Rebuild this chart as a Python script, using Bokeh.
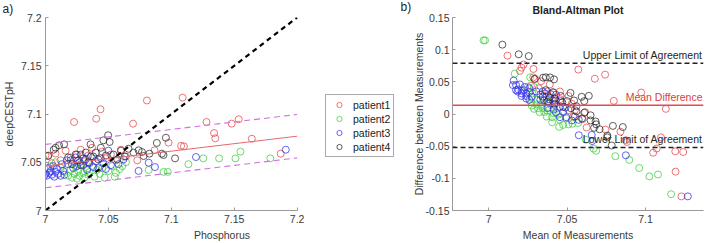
import numpy as np
from bokeh.plotting import figure
from bokeh.layouts import row
from bokeh.models import Legend, LegendItem, Label, Span, FixedTicker, Range1d, Title
from bokeh.embed import file_html
from bokeh.resources import INLINE

# ---- data: phosphorus pH vs deepCEST pH, one pair of arrays per patient ----
patients = ["patient1", "patient2", "patient3", "patient4"]
colors = ["#e5484d", "#3fcf3f", "#3535e6", "#2b2b2b"]

p1_phos = [6.9667, 6.9838, 6.985, 6.9865, 6.9936, 7.000, 7.0024, 7.005, 7.008, 7.012,
           7.016, 7.020, 7.0227, 7.025, 7.028, 7.031, 7.034, 7.037, 7.0403, 7.0437,
           7.045, 7.048, 7.052, 7.056, 7.060, 7.064, 7.0696, 7.0806, 7.0867, 7.0978,
           7.1078, 7.109, 7.110, 7.128, 7.134, 7.135, 7.148, 7.1536, 7.164, 7.187, 7.073]
p1_cest = [7.0574, 7.0608, 7.057, 7.0535, 7.0636, 7.057, 7.057, 7.049, 7.059, 7.052,
           7.062, 7.055, 7.0917, 7.058, 7.063, 7.051, 7.057, 7.065, 7.0951, 7.1049,
           7.061, 7.054, 7.058, 7.052, 7.063, 7.056, 7.090, 7.114, 7.0624, 7.0703,
           7.067, 7.117, 7.0665, 7.0917, 7.0803, 7.0748, 7.090, 7.0945, 7.0744, 7.0589, 7.052]

p2_phos = [6.9396, 6.9405, 6.9854, 6.998, 7.004, 7.008, 7.012, 7.015, 7.018, 7.020,
           7.021, 7.023, 7.024, 7.025, 7.026, 7.027, 7.028, 7.030, 7.031, 7.033,
           7.034, 7.035, 7.037, 7.039, 7.041, 7.043, 7.045, 7.047, 7.050, 7.053,
           7.055, 7.056, 7.059, 7.061, 7.064, 7.082, 7.0938, 7.0972, 7.1136, 7.1254,
           7.138, 7.151, 7.155, 7.1787]
p2_cest = [7.054, 7.055, 7.048, 7.055, 7.046, 7.050, 7.044, 7.040, 7.036, 7.042,
           7.034, 7.038, 7.045, 7.033, 7.041, 7.036, 7.048, 7.039, 7.034, 7.043,
           7.037, 7.040, 7.046, 7.035, 7.042, 7.038, 7.044, 7.034, 7.041, 7.046,
           7.035, 7.039, 7.043, 7.046, 7.050, 7.042, 7.040, 7.040, 7.048, 7.054,
           7.054, 7.054, 7.061, 7.054]

p3_phos = [6.990, 6.993, 6.995, 6.997, 6.999, 7.000, 7.001, 7.002, 7.003, 7.004,
           7.005, 7.006, 7.007, 7.008, 7.009, 7.010, 7.012, 7.013, 7.014, 7.015,
           7.017, 7.018, 7.020, 7.022, 7.024, 7.025, 7.027, 7.028, 7.030, 7.032,
           7.033, 7.035, 7.036, 7.038, 7.040, 7.042, 7.044, 7.046, 7.048, 7.050,
           7.052, 7.058, 7.062, 7.074, 7.082, 7.087, 7.1196, 7.191]
p3_cest = [7.042, 7.038, 7.040, 7.043, 7.036, 7.038, 7.036, 7.044, 7.039, 7.041,
           7.037, 7.046, 7.035, 7.040, 7.043, 7.038, 7.036, 7.048, 7.041, 7.037,
           7.052, 7.048, 7.052, 7.044, 7.055, 7.046, 7.050, 7.058, 7.047, 7.053,
           7.042, 7.049, 7.056, 7.045, 7.051, 7.044, 7.054, 7.049, 7.043, 7.062,
           7.047, 7.048, 7.053, 7.041, 7.0495, 7.045, 7.0554, 7.063]

p4_phos = [6.9549, 6.9728, 6.9806, 7.002, 7.0065, 7.008, 7.0108, 7.0148, 7.018, 7.021,
           7.024, 7.026, 7.028, 7.030, 7.032, 7.034, 7.0358, 7.038, 7.040, 7.042,
           7.044, 7.046, 7.048, 7.0498, 7.051, 7.054, 7.057, 7.060, 7.063, 7.066,
           7.070, 7.074, 7.0767, 7.078, 7.0826, 7.0885, 7.0925, 7.0938, 7.0957, 7.103]
p4_cest = [7.0627, 7.0656, 7.0706, 7.0565, 7.063, 7.065, 7.0676, 7.0686, 7.055, 7.048,
           7.058, 7.052, 7.047, 7.054, 7.060, 7.050, 7.0686, 7.056, 7.060, 7.053,
           7.065, 7.0727, 7.057, 7.078, 7.071, 7.058, 7.053, 7.062, 7.056, 7.064,
           7.060, 7.0624, 7.0606, 7.0565, 7.0589, 7.070, 7.0589, 7.0575, 7.0754, 7.054]

phos = [p1_phos, p2_phos, p3_phos, p4_phos]
cest = [p1_cest, p2_cest, p3_cest, p4_cest]

# linear fit of deepCEST on phosphorus, with its prediction band
fit_x = [7.0, 7.2]
fit_y = [7.046, 7.077]
fit_band = 0.0225
identity_xy = [7.0, 7.2]

# Bland-Altman statistics
ba_bias = 0.0135
ba_upper = 0.079
ba_lower = -0.052

left_ticks = [7.0, 7.05, 7.1, 7.15, 7.2]
left_tick_labels = ["7", "7.05", "7.1", "7.15", "7.2"]
ba_x_ticks = [7.0, 7.05, 7.1]
ba_x_tick_labels = ["7", "7.05", "7.1"]
ba_y_ticks = [-0.15, -0.1, -0.05, 0.0, 0.05, 0.1, 0.15]
ba_y_tick_labels = ["-0.15", "-0.1", "-0.05", "0", "0.05", "0.1", "0.15"]

FONT = "Liberation Sans"
TEXT = "#3a3a3a"
AXIS = "#9a9a9a"
FS = "10.5px"


def style_axes(p):
    for ax in (p.xaxis[0], p.yaxis[0]):
        ax.axis_line_color = AXIS
        ax.major_tick_line_color = AXIS
        ax.minor_tick_line_color = None
        ax.major_tick_in = 3
        ax.major_tick_out = 0
        ax.major_label_text_font = FONT
        ax.major_label_text_font_size = FS
        ax.major_label_text_color = TEXT
        ax.axis_label_text_font = FONT
        ax.axis_label_text_font_size = FS
        ax.axis_label_text_font_style = "normal"
        ax.axis_label_text_color = TEXT
        ax.major_label_standoff = 4
    p.xaxis.axis_label_standoff = 3
    p.yaxis.axis_label_standoff = 3
    p.xgrid.visible = False
    p.ygrid.visible = False
    p.outline_line_color = None
    p.background_fill_color = "white"
    p.border_fill_color = "white"


def panel_tag(text, offset, standoff, valign):
    return Title(text=text, align="left", offset=offset, standoff=standoff,
                 vertical_align=valign, text_font=FONT, text_font_size="12px",
                 text_font_style="normal", text_color="#222222")


# ---- panel a: scatter with identity and regression lines ----
# the frame runs on to the right edge so the legend can sit beside the data;
# the axis itself is bounded to 7..7.2
x_a_end = 7.2806
pa = figure(width=398, height=243, output_backend="svg", toolbar_location=None,
            x_range=Range1d(7.0, x_a_end), y_range=Range1d(7.0, 7.2),
            min_border_left=43, min_border_right=0, min_border_top=17,
            min_border_bottom=33)
style_axes(pa)
pa.xaxis.bounds = (7.0, 7.2)
pa.xaxis.axis_label = "Phosphorus"
pa.yaxis.axis_label = "deepCESTpH"
pa.xaxis.ticker = FixedTicker(ticks=left_ticks)
pa.yaxis.ticker = FixedTicker(ticks=left_ticks)
pa.xaxis.major_label_overrides = dict(zip(left_ticks, left_tick_labels))
pa.yaxis.major_label_overrides = dict(zip(left_ticks, left_tick_labels))
pa.title = panel_tag("a)", -43, 0, "top")

items = []
for name, col, xs, ys in zip(patients, colors, phos, cest):
    r = pa.scatter(xs, ys, size=7, marker="circle", fill_color=None,
                   line_color=col, line_width=0.9, line_alpha=0.85)
    items.append(LegendItem(label=name, renderers=[r]))

fy = np.array(fit_y)
pa.line(fit_x, fy, line_color="#e46a6a", line_width=1)
pa.line(fit_x, fy + fit_band, line_color="#d36fe0", line_width=1.1, line_dash="6 4")
pa.line(fit_x, fy - fit_band, line_color="#d36fe0", line_width=1.1, line_dash="6 4")
pa.line(identity_xy, identity_xy, line_color="black", line_width=2.2, line_dash="5 4")

legend = Legend(items=items, location=(280, 53), orientation="vertical",
                border_line_color="#555555", border_line_width=1,
                background_fill_color="white", background_fill_alpha=1,
                label_text_font=FONT, label_text_font_size=FS,
                label_text_color="#222222", glyph_width=20, glyph_height=13,
                label_height=13, label_standoff=4, spacing=1, padding=3, margin=0)
pa.add_layout(legend, "center")

# ---- panel b: Bland-Altman plot ----
ba_mean = [list((np.array(x) + np.array(y)) / 2) for x, y in zip(phos, cest)]
ba_diff = [list(np.array(y) - np.array(x)) for x, y in zip(phos, cest)]

x_lo, x_hi = 6.977, 7.137
pb = figure(width=311, height=243, output_backend="svg", toolbar_location=None,
            x_range=Range1d(x_lo, x_hi), y_range=Range1d(-0.15, 0.15),
            min_border_left=54, min_border_right=6, min_border_top=17,
            min_border_bottom=33)
style_axes(pb)
pb.yaxis.major_label_standoff = 3
pb.yaxis.axis_label_standoff = -2
pb.xaxis.axis_label = "Mean of Measurements"
pb.yaxis.axis_label = "Difference between Measurements"
pb.xaxis.ticker = FixedTicker(ticks=ba_x_ticks)
pb.yaxis.ticker = FixedTicker(ticks=ba_y_ticks)
pb.xaxis.major_label_overrides = dict(zip(ba_x_ticks, ba_x_tick_labels))
pb.yaxis.major_label_overrides = dict(zip(ba_y_ticks, ba_y_tick_labels))
pb.title = Title(text="Bland-Altman Plot", align="center", standoff=0,
                 vertical_align="top", text_font=FONT, text_font_size=FS,
                 text_font_style="bold", text_color="#222222")
pb.add_layout(panel_tag("b)", -52, -36, "top"), "above")

for col, mx, dy in zip(colors, ba_mean, ba_diff):
    pb.scatter(mx, dy, size=7, marker="circle", fill_color=None,
               line_color=col, line_width=0.9, line_alpha=0.85)

pb.add_layout(Span(location=ba_upper, dimension="width", line_color="#222222",
                   line_width=1.6, line_dash="5 3"))
pb.add_layout(Span(location=ba_lower, dimension="width", line_color="#222222",
                   line_width=1.6, line_dash="5 3"))
pb.add_layout(Span(location=ba_bias, dimension="width", line_color="#e5484d",
                   line_width=1.6))

for txt, yv, col in [("Upper Limit of Agreement", ba_upper, "#262626"),
                     ("Mean Difference", ba_bias, "#e03a3a"),
                     ("Lower Limit of Agreement", ba_lower, "#262626")]:
    pb.add_layout(Label(x=x_hi, y=yv, text=txt, text_font=FONT, text_font_size=FS,
                        text_color=col, text_align="right", text_baseline="bottom",
                        x_offset=-1, y_offset=2))

layout = row(pa, pb)
open("out.html", "w").write(file_html(layout, INLINE))
